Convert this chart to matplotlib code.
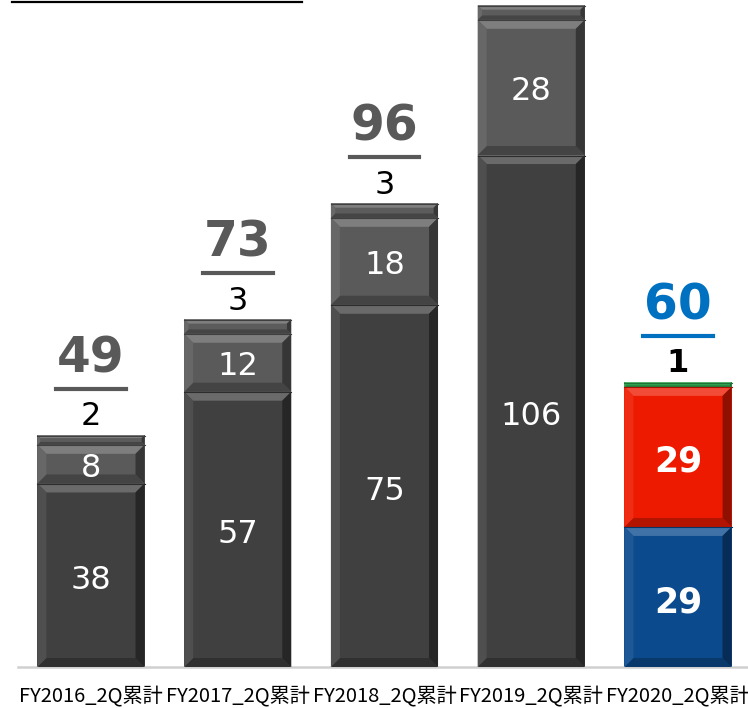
import matplotlib
matplotlib.use('Agg')
import matplotlib.pyplot as plt
import matplotlib.colors as mcolors
from matplotlib.patches import Polygon
from matplotlib.lines import Line2D
from matplotlib.transforms import IdentityTransform
import numpy as np

# data
categories = ['FY2016_2Q累計', 'FY2017_2Q累計', 'FY2018_2Q累計',
              'FY2019_2Q累計', 'FY2020_2Q累計']
seg_bottom = [38, 57, 75, 106, 29]
seg_middle = [8, 12, 18, 28, 29]
seg_top = [2, 3, 3, 3, 1]
totals = [49, 73, 96, 137, 60]

# colours: four grey bars, last one in colour
col_bottom = ['#404040'] * 4 + ['#0c4a8e']
col_middle = ['#5a5a5a'] * 4 + ['#ee1a00']
col_top = ['#5c5c5c'] * 4 + ['#2ea350']
total_colors = ['#595959'] * 4 + ['#0070c0']
bold_last = [False] * 4 + [True]


def mix(c, other, t):
    a = np.array(mcolors.to_rgb(c))
    b = np.array(mcolors.to_rgb(other))
    return tuple(a * (1 - t) + b * t)


def bevel(ax, patch, base):
    """fake the powerpoint bevel with four trapezoids in pixel space"""
    bb = patch.get_window_extent()
    x0, y0, x1, y1 = bb.x0, bb.y0, bb.x1, bb.y1
    b = min(9.0, (y1 - y0) * 0.3)
    faces = [
        ([(x0, y1), (x1, y1), (x1 - b, y1 - b), (x0 + b, y1 - b)], mix(base, 'white', 0.22)),
        ([(x0, y0), (x1, y0), (x1 - b, y0 + b), (x0 + b, y0 + b)], mix(base, 'black', 0.25)),
        ([(x0, y0), (x0 + b, y0 + b), (x0 + b, y1 - b), (x0, y1)], mix(base, 'white', 0.08)),
        ([(x1, y0), (x1 - b, y0 + b), (x1 - b, y1 - b), (x1, y1)], mix(base, 'black', 0.4)),
    ]
    for pts, c in faces:
        ax.add_patch(Polygon(pts, closed=True, facecolor=c, edgecolor='none',
                             transform=IdentityTransform(), zorder=3, clip_on=False))
    # thin dark line on the top edge
    ax.add_line(Line2D([x0, x1], [y1 - 0.5, y1 - 0.5], color=mix(base, 'black', 0.3),
                       lw=0.8, transform=IdentityTransform(), zorder=3.2))


plt.rcParams['font.family'] = ['DejaVu Sans', 'Noto Sans CJK JP']

fig = plt.figure(figsize=(7.48, 7.08), dpi=100)
ax = fig.add_axes([18 / 748, 41 / 708, 730 / 748, 667 / 708])

x = np.arange(len(categories))
w = 0.73
b1 = np.array(seg_bottom)
b2 = b1 + np.array(seg_middle)
stack_top = b2 + np.array(seg_top)

bars1 = ax.bar(x, seg_bottom, width=w, color=col_bottom, zorder=2)
bars2 = ax.bar(x, seg_middle, bottom=b1, width=w, color=col_middle, zorder=2)
bars3 = ax.bar(x, seg_top, bottom=b2, width=w, color=col_top, zorder=2)

ax.set_xlim(-0.497, 4.477)
ax.set_ylim(0, 138.1)

for s in ['top', 'right', 'left']:
    ax.spines[s].set_visible(False)
ax.spines['bottom'].set_color('#d0d0d0')
ax.spines['bottom'].set_linewidth(1.8)
ax.set_yticks([])
ax.set_xticks(x)
ax.set_xticklabels(categories, fontsize=14.5, family=['Noto Sans CJK JP'])
ax.tick_params(axis='x', length=0, pad=14)

# labels inside segments
for i in range(len(categories)):
    fw = 'bold' if bold_last[i] else 'normal'
    fs = 25 if bold_last[i] else 23
    ax.annotate(str(seg_bottom[i]), (x[i], seg_bottom[i] / 2), xytext=(0, -4),
                textcoords='offset points', ha='center', va='center',
                color='white', fontsize=fs, fontweight=fw, zorder=5)
    ax.annotate(str(seg_middle[i]), (x[i], b1[i] + seg_middle[i] / 2), xytext=(0, -3),
                textcoords='offset points', ha='center', va='center',
                color='white', fontsize=fs, fontweight=fw, zorder=5)
    ax.annotate(str(seg_top[i]), (x[i], stack_top[i]), xytext=(0, 7),
                textcoords='offset points', ha='center', va='baseline',
                color='black', fontsize=23, fontweight=fw, zorder=5,
                annotation_clip=False)

tot_texts = []
for i in range(len(categories)):
    t = ax.annotate(str(totals[i]), (x[i], stack_top[i]), xytext=(0, 45),
                    textcoords='offset points', ha='center', va='baseline',
                    color=total_colors[i], fontsize=35, fontweight='bold',
                    zorder=5, annotation_clip=False)
    tot_texts.append(t)

fig.canvas.draw()
r = fig.canvas.get_renderer()

for bars, cols in [(bars1, col_bottom), (bars2, col_middle), (bars3, col_top)]:
    for p, c in zip(bars, cols):
        bevel(ax, p, c)

# underline under the totals
for i, t in enumerate(tot_texts):
    bb = t.get_window_extent(renderer=r)
    ax.add_line(Line2D([bb.x0 - 1, bb.x1 + 1], [bb.y0 - 6, bb.y0 - 6],
                       color=total_colors[i], lw=3, transform=IdentityTransform(),
                       zorder=5, clip_on=False))

# underline of the (cut off) title at the very top
fig.add_artist(Line2D([12 / 748, 302 / 748], [1 - 1.5 / 708, 1 - 1.5 / 708],
                      transform=fig.transFigure, color='black', lw=1.6))

fig.savefig('out.png', dpi=100)
